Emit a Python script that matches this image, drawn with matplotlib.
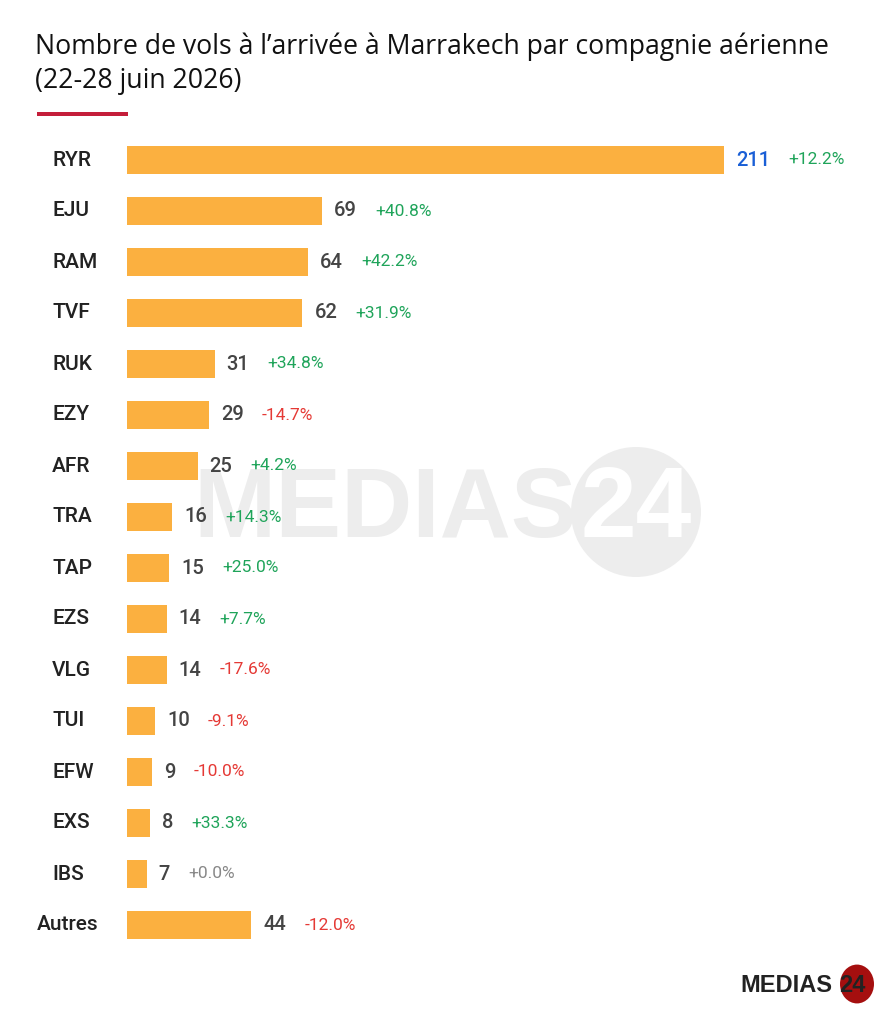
import matplotlib.pyplot as plt
from matplotlib.patches import Circle, Rectangle
from matplotlib.transforms import blended_transform_factory

plt.rcParams['font.family'] = ['Roboto', 'DejaVu Sans']

airlines = ['RYR', 'EJU', 'RAM', 'TVF', 'RUK', 'EZY', 'AFR', 'TRA', 'TAP', 'EZS',
            'VLG', 'TUI', 'EFW', 'EXS', 'IBS', 'Autres']
flights = [211, 69, 64, 62, 31, 29, 25, 16, 15, 14, 14, 10, 9, 8, 7, 44]
changes = [12.2, 40.8, 42.2, 31.9, 34.8, -14.7, 4.2, 14.3, 25.0, 7.7,
           -17.6, -9.1, -10.0, 33.3, 0.0, -12.0]

W, H = 896, 1024
fig = plt.figure(figsize=(W / 100, H / 100), dpi=100)

# watermark behind everything
wm = fig.add_axes([0, 0, 1, 1], zorder=0)
wm.set_xlim(0, W)
wm.set_ylim(H, 0)
wm.axis('off')
wm.add_patch(Circle((636, 512), 65, color='#ededed', lw=0))
wm.text(193, 511, 'MEDIAS', fontsize=71, fontweight='bold', color='#ededed',
        ha='left', va='center', family='Liberation Sans')
wm.text(636, 511, '24', fontsize=72, fontweight='bold', color='white',
        ha='center', va='center', family='Liberation Sans')

# main bars
left_px, right_px = 127, 870
top_px, bot_px = 134.5, 950.5
scale = (724 - 127) / 211
ax = fig.add_axes([left_px / W, 1 - bot_px / H, (right_px - left_px) / W,
                   (bot_px - top_px) / H], zorder=1)
ax.patch.set_alpha(0)
ypos = list(range(len(airlines)))
ax.barh(ypos, flights, height=0.55, color='#fbb040', edgecolor='none')
ax.set_xlim(0, (right_px - left_px) / scale)
ax.set_ylim(len(airlines) - 0.5, -0.5)
ax.axis('off')

lab_tr = blended_transform_factory(fig.transFigure, ax.transData)
fig.canvas.draw()
renderer = fig.canvas.get_renderer()
for i, (name, v, c) in enumerate(zip(airlines, flights, changes)):
    lx = 37 / W if name == 'Autres' else 52 / W
    ax.text(lx, i, name, transform=lab_tr, ha='left', va='center',
            fontsize=15, fontweight='medium', color='#222222')
    vcol = '#1a5fd6' if i == 0 else '#444444'
    t = ax.annotate(str(v), (v, i), xytext=(12, 0), textcoords='offset pixels',
                    ha='left', va='center', fontsize=14.5, fontweight='medium', color=vcol)
    tw = t.get_window_extent(renderer).width
    if c > 0:
        ccol, ctxt = '#1fa45a', f'+{c:.1f}%'
    elif c < 0:
        ccol, ctxt = '#e53935', f'{c:.1f}%'
    else:
        ccol, ctxt = '#888888', f'+{c:.1f}%'
    ax.annotate(ctxt, (v, i), xytext=(12 + tw + 18, 0), textcoords='offset pixels',
                ha='left', va='center', fontsize=12.5, color=ccol)

# title
fig.text(35 / W, 1 - 47 / H, "Nombre de vols à l’arrivée à Marrakech par compagnie aérienne",
         fontsize=19.2, color='#111111', ha='left', va='center', family=['Open Sans', 'DejaVu Sans'])
fig.text(35 / W, 1 - 81 / H, '(22-28 juin 2026)',
         fontsize=19.2, color='#111111', ha='left', va='center', family=['Open Sans', 'DejaVu Sans'])
fig.add_artist(Rectangle((37 / W, 1 - 116 / H), 91 / W, 4 / H, color='#c41e3a',
                         transform=fig.transFigure, lw=0))

# logo
fig.text(740 / W, 1 - 986 / H, 'MEDIAS', fontsize=17, fontweight='bold', color='#222222',
         ha='left', va='center', family='Liberation Sans')
fig.add_artist(Circle((857 / W, 1 - 984 / H), 17 / W, color='#a50f0f', lw=0,
                      transform=fig.transFigure))
fig.text(852 / W, 1 - 986 / H, '24', fontsize=17, fontweight='bold', color='#222222',
         ha='center', va='center', family='Liberation Sans')

fig.savefig('out.png', dpi=100, facecolor='white')
